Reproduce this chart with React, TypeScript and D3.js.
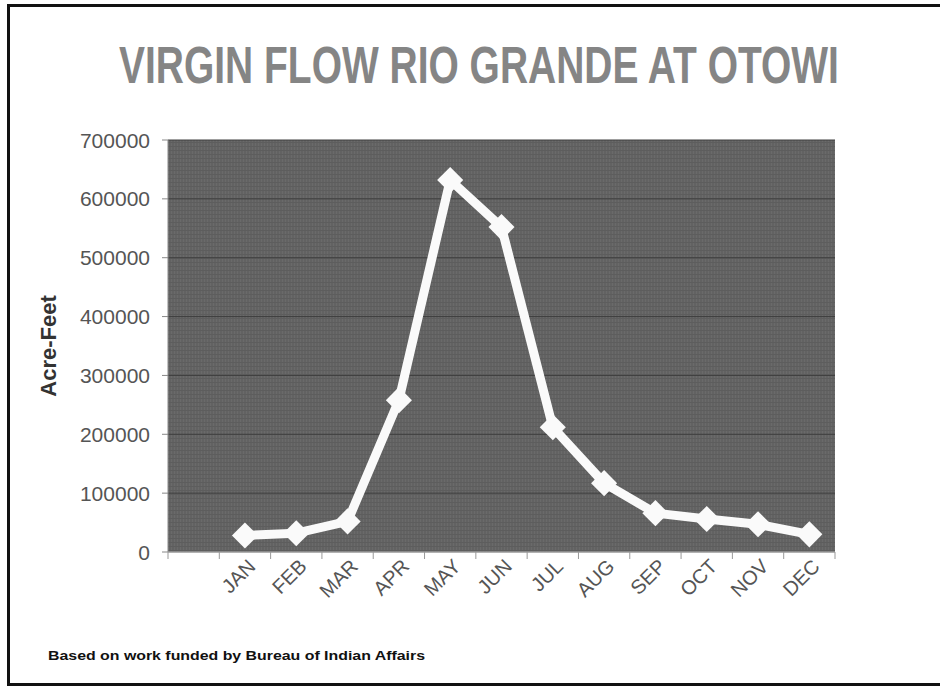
import { useEffect, useRef } from "react";
import * as d3 from "d3";

const months = ["JAN", "FEB", "MAR", "APR", "MAY", "JUN", "JUL", "AUG", "SEP", "OCT", "NOV", "DEC"];
const flow = [28000, 32000, 52000, 258000, 632000, 552000, 212000, 117000, 66000, 56000, 47000, 30000];
const yTicks = [0, 100000, 200000, 300000, 400000, 500000, 600000, 700000];

const W = 940;
const H = 687;

export default function App() {
  const ref = useRef<SVGSVGElement>(null);
  useEffect(() => {
    if (!ref.current) return;
    const svg = d3.select(ref.current);
    svg.selectAll("*").remove();

    const left = 168, right = 835, top = 140, bottom = 552;
    // first slot is an empty category, as in the original
    const x = d3.scaleBand<string>().domain(["", ...months]).range([left, right]).padding(0);
    const y = d3.scaleLinear().domain([0, 700000]).range([bottom, top]);
    const cx = (m: string) => x(m)! + x.bandwidth() / 2;

    svg.append("rect").attr("width", W).attr("height", H).attr("fill", "#fff");
    svg.append("rect")
      .attr("x", 8.5).attr("y", 5.5).attr("width", 934).attr("height", 679)
      .attr("fill", "none").attr("stroke", "#111").attr("stroke-width", 3);

    const defs = svg.append("defs");
    const pat = defs.append("pattern")
      .attr("id", "tex").attr("width", 3).attr("height", 4).attr("patternUnits", "userSpaceOnUse");
    pat.append("rect").attr("width", 3).attr("height", 4).attr("fill", "#626262");
    pat.append("rect").attr("width", 1).attr("height", 4).attr("fill", "#6a6a6a");
    pat.append("rect").attr("y", 2).attr("width", 3).attr("height", 1).attr("fill", "#5d5d5d");

    svg.append("rect")
      .attr("x", left).attr("y", top).attr("width", right - left).attr("height", bottom - top)
      .attr("fill", "url(#tex)");

    svg.append("g").selectAll("line").data(yTicks.slice(1)).join("line")
      .attr("x1", left).attr("x2", right)
      .attr("y1", (d) => y(d)).attr("y2", (d) => y(d))
      .attr("stroke", "#3e3e3e").attr("stroke-width", 1);

    // y axis
    const ya = svg.append("g");
    ya.append("line").attr("x1", left).attr("x2", left).attr("y1", top).attr("y2", bottom).attr("stroke", "#888");
    ya.selectAll("line.t").data(yTicks).join("line").attr("class", "t")
      .attr("x1", left - 6).attr("x2", left).attr("y1", (d) => y(d)).attr("y2", (d) => y(d))
      .attr("stroke", "#888");
    ya.selectAll("text").data(yTicks).join("text")
      .attr("x", 150).attr("y", (d) => y(d)).attr("dy", "0.36em")
      .attr("text-anchor", "end").attr("font-family", "Liberation Sans, Arial, sans-serif")
      .attr("font-size", 21).attr("fill", "#555")
      .text((d) => String(d));

    // x axis
    const xa = svg.append("g");
    xa.append("line").attr("x1", left).attr("x2", right).attr("y1", bottom).attr("y2", bottom).attr("stroke", "#999").attr("stroke-width", 1.5);
    const edges = [...x.domain().map((d) => x(d)!), right];
    xa.selectAll("line.t").data(edges).join("line").attr("class", "t")
      .attr("x1", (d) => d).attr("x2", (d) => d).attr("y1", bottom).attr("y2", bottom + 7)
      .attr("stroke", "#999");
    xa.selectAll("text").data(months).join("text")
      .attr("transform", (d) => `translate(${cx(d) + 6},${bottom + 10}) rotate(-45)`)
      .attr("text-anchor", "end").attr("dy", "0.4em")
      .attr("font-family", "Liberation Sans, Arial, sans-serif").attr("font-size", 20).attr("fill", "#555")
      .text((d) => d);

    const line = d3.line<number>().x((_, i) => cx(months[i])).y((d) => y(d));
    svg.append("path").datum(flow)
      .attr("d", line).attr("fill", "none").attr("stroke", "#fafafa")
      .attr("stroke-width", 9).attr("stroke-linejoin", "round");

    const sq = d3.symbol().type(d3.symbolSquare).size(340);
    svg.append("g").selectAll("path").data(flow).join("path")
      .attr("transform", (d, i) => `translate(${cx(months[i])},${y(d)}) rotate(45)`)
      .attr("d", sq).attr("fill", "#fafafa");

    // title: squeeze horizontally to the reference's width
    const title = svg.append("text")
      .attr("text-anchor", "middle")
      .attr("font-family", "Liberation Sans, Arial, sans-serif").attr("font-weight", "bold")
      .attr("font-size", 51).attr("fill", "#858585")
      .text("VIRGIN FLOW RIO GRANDE AT OTOWI");
    const tw = (title.node() as SVGTextElement).getComputedTextLength() || 720;
    title.attr("transform", `translate(479,83) scale(${720 / tw},1)`);

    svg.append("text")
      .attr("transform", "translate(56,346) rotate(-90)").attr("text-anchor", "middle")
      .attr("font-family", "Liberation Sans, Arial, sans-serif").attr("font-weight", "bold")
      .attr("font-size", 22).attr("fill", "#333")
      .text("Acre-Feet");

    svg.append("text")
      .attr("x", 48).attr("y", 660)
      .attr("font-family", "Liberation Sans, Arial, sans-serif").attr("font-weight", "bold")
      .attr("font-size", 13).attr("fill", "#111")
      .attr("textLength", 377).attr("lengthAdjust", "spacingAndGlyphs")
      .text("Based on work funded by Bureau of Indian Affairs");
  }, []);
  return <svg ref={ref} width={W} height={H} style={{ position: "absolute", left: 0, top: 0 }} />;
}
